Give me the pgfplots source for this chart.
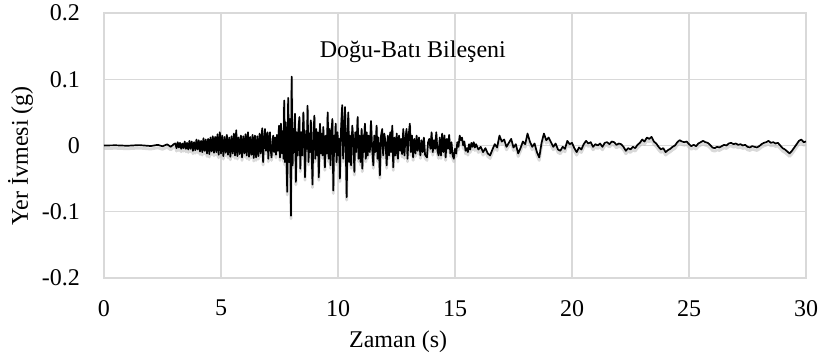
\documentclass[border=0pt]{standalone}
\usepackage{fontspec}
\setmainfont{Liberation Serif}
\usepackage{pgfplots}
\usepackage{pgfplotstable}
\pgfplotsset{compat=1.18}

\definecolor{gridgray}{HTML}{D9D9D9}

% East-west ground acceleration record: time (s), acceleration (g)
\pgfplotstableread{
t a
0 0
0.5 0.0003
1.0 -0.0004
1.5 0.0006
2.0 -0.0008
2.3 0.001
2.5 -0.0012
2.7 0.0018
2.85 -0.002
3.0 0.0025
3.05 0.003
3.10 -0.004
3.15 0.005
3.20 -0.003
3.25 0.004
3.30 -0.005
3.35 0.003
3.40 -0.004
3.45 0.006
3.50 -0.005
3.55 0.004
3.60 -0.006
3.65 0.007
3.70 -0.005
3.75 0.006
3.80 -0.008
3.85 0.005
3.90 -0.007
3.95 0.009
4.00 -0.006
4.05 0.008
4.10 -0.009
4.15 0.007
4.20 -0.010
4.25 0.011
4.30 -0.008
4.35 0.009
4.40 -0.012
4.45 0.010
4.50 -0.013
4.55 0.012
4.60 -0.009
4.65 0.014
4.70 -0.011
4.75 0.013
4.80 -0.010
4.85 0.017
4.90 -0.014
4.95 0.020
5.00 -0.012
5.05 0.015
5.10 -0.016
5.15 0.013
5.20 -0.011
5.25 0.016
5.30 -0.014
5.35 0.012
5.40 -0.017
5.45 0.014
5.50 -0.012
5.55 0.018
5.60 -0.015
5.65 0.023
5.70 -0.016
5.75 0.012
5.80 -0.013
5.85 0.015
5.90 -0.018
5.95 0.014
6.00 -0.012
6.05 0.017
6.10 -0.015
6.15 0.020
6.20 -0.017
6.25 0.013
6.30 -0.014
6.35 0.016
6.40 -0.019
6.45 0.015
6.50 -0.018
6.55 0.014
6.60 -0.016
6.65 0.018
6.70 -0.012
6.76 0.026
6.80 -0.025
6.84 0.010
6.88 0.025
6.92 -0.008
6.96 0.014
6.99 0.020
7.02 -0.020
7.06 0.008
7.09 0.020
7.12 -0.006
7.16 -0.018
7.20 0.005
7.23 0.015
7.27 -0.010
7.31 0.012
7.35 -0.014
7.39 0.016
7.43 -0.008
7.48 0.030
7.52 -0.018
7.56 0.033
7.60 -0.012
7.64 0.022
7.67 -0.020
7.70 0.068
7.73 -0.025
7.77 0.035
7.80 -0.020
7.83 -0.070
7.87 0.072
7.91 -0.025
7.95 0.040
7.99 -0.106
8.02 0.104
8.06 -0.030
8.10 0.025
8.13 -0.010
8.16 0.048
8.20 -0.055
8.24 0.020
8.28 -0.015
8.32 0.030
8.35 0.043
8.39 -0.035
8.43 0.020
8.47 -0.015
8.52 0.050
8.56 0.005
8.59 -0.048
8.64 0.022
8.67 -0.005
8.70 0.060
8.74 -0.025
8.78 0.018
8.81 -0.010
8.84 0.038
8.91 -0.059
8.95 0.015
8.99 0.045
9.03 -0.020
9.07 0.025
9.11 -0.015
9.14 0.020
9.18 -0.048
9.23 0.033
9.27 -0.012
9.31 0.018
9.34 -0.015
9.37 0.028
9.40 0.005
9.44 -0.033
9.48 0.015
9.52 -0.012
9.56 0.050
9.60 -0.020
9.64 0.025
9.68 -0.030
9.72 0.020
9.76 0.040
9.80 -0.068
9.84 0.015
9.87 -0.010
9.90 0.033
9.94 -0.025
9.98 0.020
10.02 -0.015
10.05 0.010
10.08 -0.050
10.13 0.025
10.18 0.061
10.22 -0.020
10.26 0.015
10.30 0.058
10.37 -0.078
10.41 0.020
10.44 0.050
10.48 -0.025
10.52 0.015
10.56 -0.030
10.61 0.030
10.66 0.005
10.70 -0.040
10.74 0.020
10.78 -0.010
10.84 0.043
10.88 -0.020
10.92 0.015
10.96 -0.025
11.01 0.025
11.04 -0.035
11.08 0.015
11.11 -0.010
11.15 0.033
11.19 -0.020
11.23 0.020
11.27 -0.015
11.31 0.015
11.36 -0.010
11.41 0.037
11.46 -0.005
11.51 -0.030
11.55 0.015
11.59 -0.010
11.65 0.030
11.69 -0.020
11.73 0.012
11.79 -0.045
11.84 0.015
11.89 0.025
11.93 -0.015
11.98 0.018
12.03 0.005
12.08 -0.030
12.13 0.015
12.18 -0.015
12.23 0.020
12.27 -0.010
12.32 0.030
12.36 -0.033
12.41 0.012
12.46 -0.015
12.51 0.018
12.56 -0.020
12.61 0.015
12.66 -0.008
12.70 0.010
12.74 -0.013
12.79 0.025
12.84 -0.015
12.88 0.010
12.93 0.025
12.97 -0.020
13.02 0.015
13.07 0.033
13.11 -0.010
13.16 0.015
13.21 -0.018
13.26 0.010
13.31 -0.012
13.36 0.015
13.41 -0.008
13.46 0.012
13.52 -0.015
13.57 0.008
13.62 -0.010
13.67 0.012
13.72 -0.014
13.80 -0.018
13.85 0.005
13.90 0.010
13.95 -0.005
14.00 0.020
14.05 -0.010
14.10 0.008
14.15 -0.005
14.20 0.020
14.25 -0.008
14.30 -0.015
14.35 0.012
14.40 -0.015
14.45 0.018
14.50 -0.010
14.55 0.015
14.60 -0.018
14.65 0.010
14.70 -0.005
14.75 0.016
14.80 -0.012
14.85 0.005
14.90 -0.015
14.95 -0.020
15.00 -0.005
15.05 -0.012
15.10 0.005
15.15 -0.002
15.20 0.015
15.25 0.008
15.30 0.012
15.35 0.000
15.40 0.006
15.45 -0.008
15.50 -0.004
15.55 -0.010
15.60 0.002
15.65 -0.006
15.70 0.004
15.75 -0.002
15.80 0.005
15.85 -0.003
15.90 0.002
16.0 -0.006
16.1 -0.002
16.2 -0.010
16.3 -0.004
16.4 -0.012
16.5 -0.015
16.6 -0.006
16.7 0.002
16.8 -0.003
16.9 0.015
17.0 0.006
17.1 0.009
17.2 -0.002
17.3 0.004
17.4 0.010
17.5 -0.003
17.6 0.002
17.7 -0.012
17.8 -0.004
17.9 0.006
18.0 0.002
18.1 0.018
18.2 0.006
18.3 -0.002
18.4 0.003
18.5 -0.010
18.6 -0.018
18.7 0.004
18.8 0.018
18.9 0.008
19.0 0.012
19.1 0.005
19.2 -0.002
19.3 0.003
19.4 -0.006
19.5 -0.008
19.6 -0.002
19.7 -0.005
19.8 0.007
19.9 0.002
20.0 0.004
20.1 -0.004
20.2 -0.010
20.3 -0.003
20.4 -0.006
20.5 0.002
20.6 0.007
20.7 0.003
20.8 0.005
20.9 -0.002
21.0 0.002
21.1 0.000
21.2 0.003
21.3 -0.002
21.4 0.004
21.5 0.005
21.6 0.002
21.7 0.006
21.8 0.005
21.9 0.001
22.0 0.003
22.1 0.002
22.2 -0.002
22.3 -0.008
22.4 -0.004
22.5 -0.006
22.6 -0.002
22.7 -0.004
22.8 0.001
22.9 0.004
23.0 0.009
23.1 0.006
23.2 0.012
23.3 0.010
23.4 0.013
23.5 0.006
23.6 0.003
23.7 -0.002
23.8 -0.006
23.9 -0.004
24.0 -0.010
24.1 -0.007
24.2 -0.005
24.3 -0.002
24.4 0.000
24.5 0.005
24.6 0.008
24.7 0.006
24.8 0.005
24.9 0.006
25.0 0.002
25.1 -0.001
25.2 0.001
25.3 -0.001
25.4 0.003
25.5 0.005
25.6 0.007
25.7 0.005
25.8 0.004
25.9 0.001
26.0 -0.003
26.1 -0.004
26.2 -0.002
26.3 -0.003
26.4 -0.001
26.5 0.001
26.6 0.000
26.7 0.003
26.8 0.004
26.9 0.002
27.0 0.003
27.1 0.001
27.2 0.002
27.3 0.000
27.4 0.001
27.5 -0.002
27.6 -0.003
27.7 -0.001
27.8 -0.002
27.9 -0.003
28.0 -0.001
28.1 0.002
28.2 0.004
28.3 0.005
28.4 0.007
28.5 0.004
28.6 0.005
28.7 0.003
28.8 0.004
28.9 0.000
29.0 -0.004
29.1 -0.006
29.2 -0.009
29.3 -0.012
29.4 -0.008
29.5 -0.003
29.6 0.002
29.7 0.007
29.8 0.009
29.9 0.005
30.0 0.006
}\ewdata

\begin{document}
\fontsize{24bp}{28bp}\selectfont
\begin{tikzpicture}
\path[use as bounding box] (-104bp,-79bp) rectangle (718bp,278bp);
\begin{axis}[
  at={(0,0)}, anchor=south west,
  scale only axis, width=702bp, height=265bp,
  xmin=0, xmax=30, ymin=-0.2, ymax=0.2,
  xtick={0,5,...,30}, ytick={-0.2,-0.1,0,0.1,0.2},
  xticklabels={0,5,10,15,20,25,30},
  yticklabels={-0.2,-0.1,0,0.1,0.2},
  /pgf/number format/assume math mode=true,
  grid=major,
  major grid style={gridgray, line width=1.2bp},
  axis line style={gridgray, line width=1.2bp},
  major tick length=0pt,
  tick style={draw=none},
  xticklabel style={anchor=north, inner sep=0pt, yshift=-22bp},
  yticklabel style={anchor=east, inner sep=0pt, xshift=-24bp},
  xlabel={Zaman (s)},
  ylabel={Yer İvmesi (g)},
  xlabel style={at={(axis description cs:0.419,-0.264)}, anchor=base},
  ylabel style={at={(axis description cs:-0.1083,0.462)}, anchor=base},
]
\addplot[black!25, line width=2.8bp, opacity=0.6, yshift=-3bp, line join=round] table[x=t, y=a] {\ewdata};
\addplot[black, line width=1.7bp, line join=round] table[x=t, y=a] {\ewdata};
\node[anchor=base] at (axis cs:13.2,0.1333) {Doğu-Batı Bileşeni};
\end{axis}
\end{tikzpicture}
\end{document}
